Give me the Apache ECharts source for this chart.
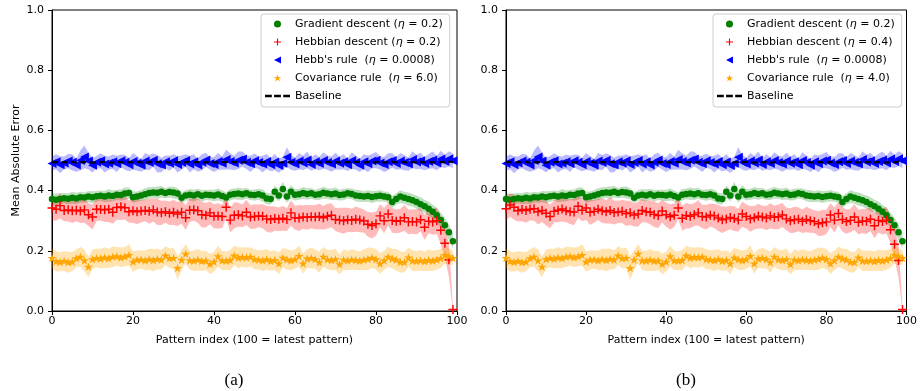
<!DOCTYPE html>
<html><head><meta charset="utf-8">
<script src="https://cdn.jsdelivr.net/npm/echarts@6/dist/echarts.min.js"></script>
<style>html,body{margin:0;padding:0;background:#fff}#c{width:920px;height:391px}</style>
</head><body><div id="c"></div>
<script>
// ---- data (pattern index 0..99) ----
const gradient = [
.372,.370,.372,.375,.373,.376,.374,.378,.377,.380,
.378,.381,.383,.380,.384,.382,.386,.385,.390,.392,
.378,.380,.384,.388,.392,.394,.393,.396,.392,.395,
.394,.390,.376,.384,.386,.384,.388,.383,.386,.385,
.384,.387,.382,.377,.386,.389,.390,.388,.391,.386,
.385,.388,.384,.374,.372,.396,.384,.405,.380,.396,
.386,.388,.392,.389,.391,.386,.388,.393,.390,.388,
.390,.385,.387,.391,.389,.384,.382,.380,.382,.379,
.381,.383,.380,.378,.362,.372,.380,.376,.372,.368,
.362,.355,.348,.340,.330,.318,.302,.285,.262,.232];
const gradientStd = [
.018,.020,.019,.017,.018,.020,.019,.018,.017,.019,
.020,.018,.017,.019,.021,.018,.017,.019,.020,.018,
.019,.017,.018,.020,.019,.018,.021,.019,.017,.018,
.020,.019,.018,.017,.019,.020,.018,.019,.017,.018,
.019,.020,.018,.017,.019,.018,.020,.019,.018,.017,
.019,.018,.020,.019,.018,.021,.019,.024,.020,.022,
.019,.018,.020,.019,.018,.017,.019,.020,.018,.019,
.020,.018,.019,.017,.018,.019,.020,.018,.019,.020,
.018,.019,.017,.018,.020,.019,.021,.020,.022,.021,
.022,.023,.022,.024,.023,.025,.024,.025,.026,.024];
const hebbianA = [
.342,.338,.350,.334,.336,.333,.335,.332,.336,.320,
.312,.338,.337,.336,.338,.328,.344,.346,.343,.330,
.333,.330,.332,.334,.331,.336,.329,.326,.330,.325,
.328,.322,.328,.310,.335,.336,.333,.320,.318,.326,
.315,.316,.314,.345,.302,.318,.320,.316,.328,.312,
.314,.316,.315,.306,.304,.307,.305,.308,.304,.326,
.310,.309,.312,.311,.313,.312,.314,.310,.315,.318,
.304,.302,.300,.303,.301,.305,.302,.299,.288,.284,
.290,.316,.300,.322,.301,.298,.300,.310,.296,.297,
.296,.303,.278,.298,.296,.300,.268,.225,.170,.005];
const hebbianB = [
.340,.352,.345,.333,.337,.334,.338,.340,.330,.334,
.325,.314,.331,.335,.339,.333,.330,.329,.348,.335,
.342,.328,.331,.338,.333,.330,.334,.327,.329,.331,
.324,.326,.319,.322,.334,.330,.328,.321,.317,.332,
.320,.313,.318,.342,.308,.317,.315,.320,.326,.314,
.312,.318,.316,.309,.303,.306,.311,.307,.302,.322,
.314,.306,.310,.315,.312,.309,.316,.311,.313,.319,
.306,.300,.303,.305,.298,.304,.300,.297,.290,.293,
.296,.319,.302,.324,.304,.297,.301,.312,.295,.299,
.298,.305,.283,.301,.297,.302,.270,.222,.168,.005];
const hebbianStd = [
.040,.038,.042,.036,.039,.041,.037,.040,.043,.038,
.041,.039,.036,.040,.042,.038,.041,.044,.039,.037,
.040,.042,.038,.036,.041,.039,.043,.040,.037,.039,
.042,.040,.038,.041,.039,.036,.040,.043,.041,.038,
.040,.042,.039,.037,.041,.043,.040,.038,.042,.039,
.041,.038,.040,.043,.044,.040,.039,.041,.038,.042,
.040,.043,.039,.041,.038,.040,.042,.039,.041,.040,
.038,.041,.043,.040,.039,.042,.040,.038,.041,.043,
.040,.039,.042,.038,.041,.040,.039,.043,.041,.040,
.042,.039,.041,.040,.043,.044,.046,.050,.055,.010];
const hebbs = [
.490,.496,.486,.492,.498,.494,.485,.500,.512,.498,
.484,.494,.499,.488,.491,.496,.489,.499,.494,.486,
.497,.491,.484,.498,.493,.501,.489,.485,.496,.491,
.499,.487,.493,.500,.488,.496,.485,.494,.502,.490,
.487,.497,.491,.503,.497,.492,.501,.505,.494,.489,
.499,.493,.488,.497,.486,.495,.483,.491,.511,.494,
.488,.498,.492,.502,.487,.496,.490,.500,.493,.488,
.498,.491,.496,.486,.500,.493,.484,.496,.489,.498,
.501,.492,.487,.496,.500,.490,.498,.493,.488,.503,
.495,.499,.490,.497,.502,.492,.505,.497,.506,.499];
const hebbsStd = [
.023,.025,.028,.021,.024,.027,.022,.033,.038,.028,
.024,.021,.025,.028,.022,.024,.027,.021,.025,.022,
.028,.024,.021,.027,.025,.022,.029,.024,.021,.025,
.022,.027,.024,.021,.028,.025,.022,.027,.024,.021,
.025,.028,.022,.033,.027,.024,.029,.025,.022,.027,
.024,.021,.028,.025,.022,.027,.024,.021,.033,.025,
.022,.027,.024,.028,.021,.025,.022,.027,.024,.025,
.028,.022,.025,.021,.027,.024,.022,.025,.028,.024,
.027,.022,.025,.028,.024,.021,.027,.025,.022,.028,
.024,.027,.022,.025,.028,.024,.027,.022,.025,.024];
const covariance = [
.176,.165,.163,.166,.162,.164,.175,.180,.168,.147,
.172,.176,.174,.178,.175,.180,.182,.178,.181,.186,
.164,.170,.171,.168,.172,.169,.173,.170,.184,.175,
.176,.143,.170,.190,.168,.167,.170,.166,.168,.156,
.164,.182,.168,.167,.169,.184,.177,.179,.178,.180,
.172,.170,.168,.172,.166,.169,.158,.177,.171,.168,
.172,.183,.158,.174,.176,.172,.162,.180,.171,.169,
.172,.155,.170,.168,.171,.169,.167,.170,.173,.177,
.172,.158,.168,.180,.174,.170,.163,.162,.178,.167,
.166,.168,.165,.169,.167,.170,.175,.186,.182,.176];
const covarianceStd = [
.032,.034,.031,.033,.035,.032,.030,.033,.036,.034,
.032,.031,.033,.035,.032,.034,.031,.033,.032,.036,
.034,.032,.030,.033,.035,.038,.034,.032,.031,.033,
.035,.039,.033,.032,.031,.034,.036,.033,.032,.034,
.033,.035,.032,.031,.034,.033,.035,.032,.034,.031,
.033,.032,.035,.034,.032,.033,.036,.032,.034,.033,
.032,.035,.033,.031,.034,.032,.035,.033,.032,.034,
.036,.033,.035,.032,.034,.033,.031,.035,.037,.034,
.033,.035,.032,.034,.033,.036,.035,.034,.032,.035,
.033,.034,.032,.035,.034,.033,.031,.029,.026,.024];
const baseline = [
.494,.495,.493,.495,.494,.496,.493,.494,.495,.494,
.493,.495,.494,.496,.494,.493,.495,.494,.493,.495,
.494,.496,.494,.493,.495,.494,.496,.494,.495,.493,
.494,.495,.493,.494,.496,.494,.495,.493,.494,.495,
.494,.493,.495,.494,.496,.495,.494,.493,.495,.494,
.493,.495,.494,.496,.494,.495,.493,.494,.495,.494,
.496,.494,.493,.495,.494,.495,.493,.494,.496,.494,
.495,.493,.494,.495,.494,.496,.494,.493,.495,.494,
.494,.495,.493,.494,.496,.494,.495,.494,.493,.495,
.494,.496,.494,.495,.494,.493,.495,.494,.496,.495];
const xTicks = [0, 20, 40, 60, 80, 100];
const yTicks = [0.0, 0.2, 0.4, 0.6, 0.8, 1.0];
const panels = [
  {caption: '(a)', names: ['Gradient descent (η = 0.2)', 'Hebbian descent (η = 0.2)', "Hebb's rule  (η = 0.0008)", 'Covariance rule  (η = 6.0)', 'Baseline'], hebbian: hebbianA},
  {caption: '(b)', names: ['Gradient descent (η = 0.2)', 'Hebbian descent (η = 0.4)', "Hebb's rule  (η = 0.0008)", 'Covariance rule  (η = 4.0)', 'Baseline'], hebbian: hebbianB}
];

// ---- styling / layout ----
const FONT = 'DejaVu Sans';
const PLUS = 'path://M4.2,0H5.8V4.2H10V5.8H5.8V10H4.2V5.8H0V4.2H4.2Z';
const TRI = 'path://M0,5L10,0L10,10Z';
const STAR = 'path://M10,0L12.245,6.91L19.51,6.91L13.63,11.18L15.88,18.09L10,13.82L4.12,18.09L6.37,11.18L0.49,6.91L7.755,6.91Z';
const DASH = 'path://M0,0H6V2H0Z M8,0H14V2H8Z M16,0H22V2H16Z';
const gridLeft = [52, 506];
const legendLeft = [261, 713];
const captionX = [234, 686];

const chart = echarts.init(document.getElementById('c'), null, {renderer: 'canvas'});
const grids = [], xAxes = [], yAxes = [], series = [], legends = [], graphics = [];

function pairs(arr) { return arr.map((v, i) => [i, v]); }

// shaded mean ± std band, drawn as one polygon through the axis scales
function bandSeries(gi, vals, std, fill) {
  return {
    type: 'custom', xAxisIndex: gi, yAxisIndex: gi, silent: true, clip: true, z: 1,
    data: [[0, vals[0]]],
    encode: {x: 0, y: 1},
    renderItem: function (params, api) {
      const upper = vals.map((v, i) => api.coord([i, v + std[i]]));
      const lower = vals.map((v, i) => api.coord([i, Math.max(0, v - std[i])])).reverse();
      return {type: 'polygon', shape: {points: upper.concat(lower)}, style: {fill: fill, stroke: 'none'}};
    }
  };
}

panels.forEach((p, gi) => {
  grids.push({left: gridLeft[gi], width: 405, top: 10, height: 301, show: true, borderColor: '#000', borderWidth: 1, backgroundColor: 'transparent'});
  xAxes.push({type: 'value', gridIndex: gi, min: 0, max: 100, interval: 20,
    name: 'Pattern index (100 = latest pattern)', nameLocation: 'middle', nameGap: 24,
    nameTextStyle: {fontFamily: FONT, fontSize: 11, color: '#000'},
    axisLine: {show: true, onZero: false, lineStyle: {color: '#000', width: 1}},
    axisTick: {show: true, length: 4, lineStyle: {color: '#000'}},
    axisLabel: {fontFamily: FONT, fontSize: 11, color: '#000', margin: 5},
    splitLine: {show: false}});
  yAxes.push({type: 'value', gridIndex: gi, min: 0, max: 1, interval: 0.2,
    name: gi === 0 ? 'Mean Absolute Error' : '', nameLocation: 'middle', nameGap: 30,
    nameTextStyle: {fontFamily: FONT, fontSize: 11, color: '#000'},
    axisLine: {show: true, onZero: false, lineStyle: {color: '#000', width: 1}},
    axisTick: {show: true, length: 4, lineStyle: {color: '#000'}},
    axisLabel: {fontFamily: FONT, fontSize: 11, color: '#000', margin: 8, formatter: v => v.toFixed(1)},
    splitLine: {show: false}});

  const defs = [
    {vals: gradient, std: gradientStd, color: '#008000', band: 'rgba(0,128,0,0.25)', symbol: 'circle', size: 6.5},
    {vals: p.hebbian, std: hebbianStd, color: '#ff0000', band: 'rgba(255,0,0,0.27)', symbol: PLUS, size: 9},
    {vals: hebbs, std: hebbsStd, color: '#0000ff', band: 'rgba(0,0,255,0.27)', symbol: TRI, size: 9},
    {vals: covariance, std: covarianceStd, color: '#ffa500', band: 'rgba(255,165,0,0.3)', symbol: STAR, size: 9}
  ];
  defs.forEach(d => series.push(bandSeries(gi, d.vals, d.std, d.band)));
  defs.forEach((d, k) => {
    series.push({type: 'scatter', name: p.names[k], xAxisIndex: gi, yAxisIndex: gi, symbol: d.symbol,
      symbolSize: d.size, symbolKeepAspect: true, itemStyle: {color: d.color, opacity: 1}, data: pairs(d.vals), z: 3, animation: false});
  });
  series.push({type: 'line', name: 'Baseline', xAxisIndex: gi, yAxisIndex: gi, symbol: 'none', color: '#000',
    itemStyle: {color: '#000'}, lineStyle: {color: '#000', width: 2, type: [6, 3.5]}, data: pairs(baseline), z: 4, animation: false});

  const icons = ['circle', PLUS, TRI, STAR, DASH];
  legends.push({
    left: legendLeft[gi], top: 14, orient: 'vertical', padding: [3, 7, 4, 4],
    itemWidth: 25, itemHeight: 7, itemGap: 4, selectedMode: false,
    backgroundColor: 'rgba(255,255,255,0.8)', borderColor: '#cccccc', borderWidth: 1, borderRadius: 3,
    data: p.names.map((n, k) => ({name: n, icon: icons[k]})),
    formatter: n => n.replace('η', '{i|η}'),
    textStyle: {fontFamily: FONT, fontSize: 11, color: '#000', lineHeight: 14,
      rich: {i: {fontFamily: FONT, fontSize: 11, fontStyle: 'italic', color: '#000', lineHeight: 14}}}
  });
  graphics.push({type: 'text', x: captionX[gi], y: 381, style: {text: p.caption, font: '17px "Liberation Serif"', fill: '#000', align: 'center', verticalAlign: 'middle'}});
});

chart.setOption({
  animation: false,
  backgroundColor: '#fff',
  grid: grids, xAxis: xAxes, yAxis: yAxes, series: series, legend: legends, graphic: graphics
});
</script></body></html>
